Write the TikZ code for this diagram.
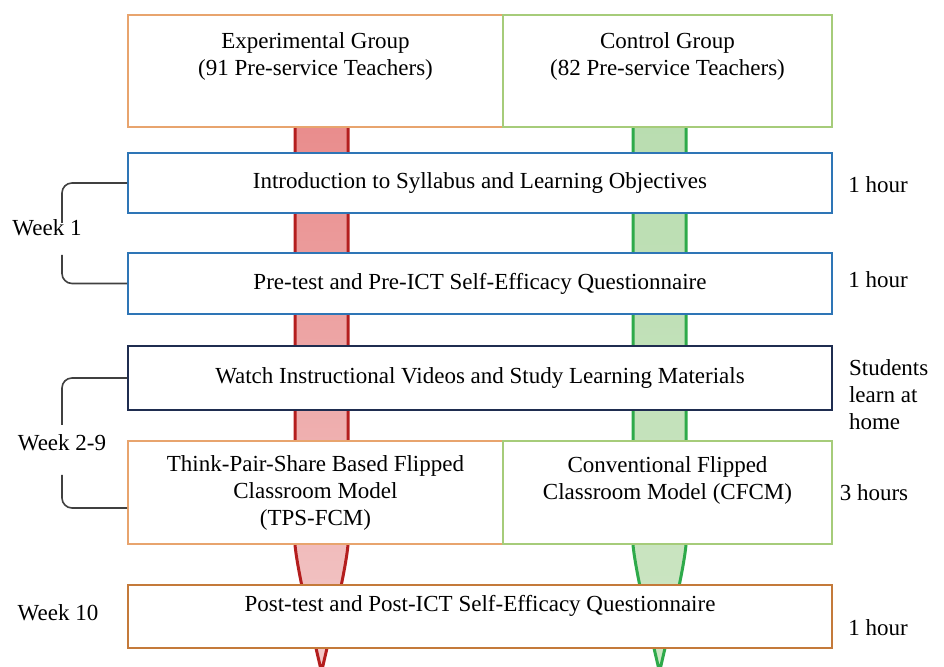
\documentclass[tikz,border=0pt]{standalone}
\usepackage{fontspec}
\setmainfont{Liberation Serif}
\usetikzlibrary{positioning}
\definecolor{exporange}{HTML}{E8A46E}
\definecolor{ctrlgreen}{HTML}{A6CC7A}
\definecolor{introblue}{HTML}{2E75B6}
\definecolor{watchnavy}{HTML}{1F2D50}
\definecolor{postbrown}{HTML}{C47A3A}
\definecolor{redline}{HTML}{B41E1E}
\definecolor{redtop}{HTML}{E98C8C}
\definecolor{redbot}{HTML}{F3CACA}
\definecolor{grnline}{HTML}{2EAA4A}
\definecolor{grntop}{HTML}{B9DDB0}
\definecolor{grnbot}{HTML}{CDE6C4}
\definecolor{bracegray}{HTML}{404040}

\begin{document}
\begin{tikzpicture}[x=0.5pt, y=-0.5pt,
    box/.style={draw, fill=white, line width=1pt, inner sep=0pt,
                font=\fontsize{11.5}{13.5}\selectfont, align=center},
    txt/.style={font=\fontsize{11.5}{13.5}\selectfont, align=center},
    side/.style={font=\fontsize{11.5}{13.5}\selectfont, align=left},
    brace/.style={draw=bracegray, line width=0.8pt, rounded corners=5pt}
]
  \useasboundingbox (0,0) rectangle (944,667);

  % Group arrows (behind the boxes)
  \draw[redline, line width=1.5pt, top color=redtop, bottom color=redbot]
    (295,120) -- (295,545) .. controls (298,575) and (312,630) .. (321.5,672)
    .. controls (331,630) and (345,575) .. (348,545) -- (348,120) -- cycle;
  \draw[grnline, line width=1.5pt, top color=grntop, bottom color=grnbot]
    (633,120) -- (633,545) .. controls (636,575) and (650,630) .. (659.5,672)
    .. controls (669,630) and (683,575) .. (686,545) -- (686,120) -- cycle;

  % Groups
  \node[box, draw=exporange, minimum width=187.5pt, minimum height=56pt] (exp) at (315.5,71) {};
  \node[txt] (exptxt) at (315.5,56.5) {Experimental Group\\(91 Pre-service Teachers)};
  \node[box, draw=ctrlgreen, minimum width=164.5pt, minimum height=56pt] (ctrl) at (667.5,71) {};
  \node[txt] (ctrltxt) at (667.5,56.5) {Control Group\\(82 Pre-service Teachers)};

  % Week 1
  \node[box, draw=introblue, minimum width=352pt, minimum height=30pt] (intro) at (480,183)
    {Introduction to Syllabus and Learning Objectives};
  \node[box, draw=introblue, minimum width=352pt, minimum height=30.5pt] (pre) at (480,283.5)
    {Pre-test and Pre-ICT Self-Efficacy Questionnaire};

  % Week 2-9
  \node[box, draw=watchnavy, minimum width=352pt, minimum height=32pt] (watch) at (480,378)
    {Watch Instructional Videos and Study Learning Materials};
  \node[box, draw=exporange, minimum width=187.5pt, minimum height=51.5pt] (tps) at (315.5,492.5)
    {Think-Pair-Share Based Flipped\\Classroom Model\\(TPS-FCM)};
  \node[box, draw=ctrlgreen, minimum width=164.5pt, minimum height=51.5pt] (cfcm) at (667.5,492.5) {};
  \node[txt] (cfcmtxt) at (667.5,480) {Conventional Flipped\\Classroom Model (CFCM)};

  % Week 10
  \node[box, draw=postbrown, minimum width=352pt, minimum height=31.5pt] (post) at (480,616.5) {};
  \node[txt] (posttxt) at (480,606) {Post-test and Post-ICT Self-Efficacy Questionnaire};

  % Week labels
  \node[side] (wk1) at (47,228) {Week 1};
  \node[side] (wk2) at (62,443) {Week 2-9};
  \node[side] (wk10) at (58,613) {Week 10};

  % Brackets
  \draw[brace] (intro.west) -- (62,183) -- (62,223);
  \draw[brace] (62,255) -- (62,283.5) -- (pre.west);
  \draw[brace] (watch.west) -- (62,378) -- (62,425);
  \draw[brace] (62,475) -- (62,508) -- (tps.south west |- 0,508);

  % Durations
  \node[side] (d1) at (878,185) {1 hour};
  \node[side] (d2) at (878,280) {1 hour};
  \node[side, anchor=west] (d3) at (842,395) {Students\\learn at\\home};
  \node[side] (d4) at (874,493) {3 hours};
  \node[side] (d5) at (878,628) {1 hour};
\end{tikzpicture}
\end{document}
